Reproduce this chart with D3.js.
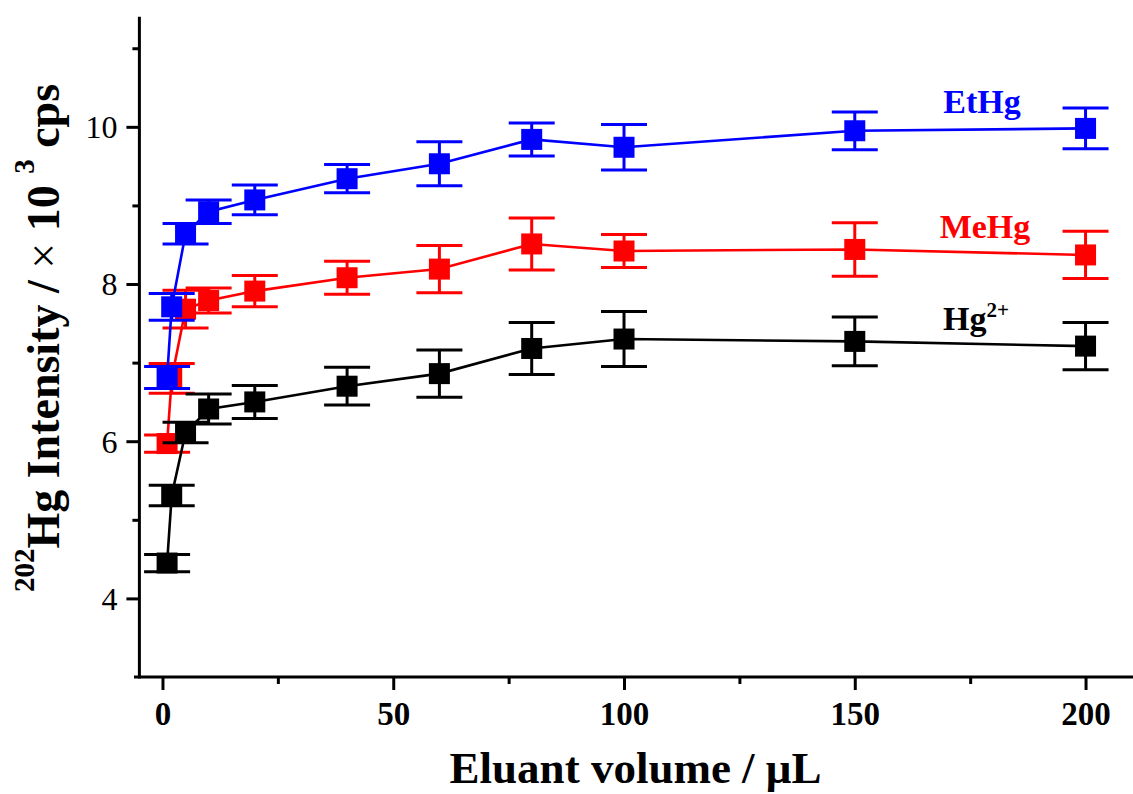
<!DOCTYPE html>
<html>
<head>
<meta charset="utf-8">
<script src="https://cdn.jsdelivr.net/npm/d3@7"></script>
<style>
  html, body { margin: 0; padding: 0; background: #fff; }
  svg { display: block; font-family: "Liberation Serif", "Times New Roman", serif; }
</style>
</head>
<body>
<svg id="chart" width="1133" height="794"></svg>
<script>
// ---- data ----
const xVals = [1, 2, 5, 10, 20, 40, 60, 80, 100, 150, 200];
const hgVals = [4.45, 5.31, 6.11, 6.41, 6.50, 6.70, 6.86, 7.18, 7.30, 7.27, 7.21];
const hgErr  = [0.11, 0.13, 0.13, 0.19, 0.21, 0.24, 0.30, 0.33, 0.35, 0.31, 0.30];
const meVals = [5.97, 6.80, 7.68, 7.79, 7.91, 8.08, 8.19, 8.51, 8.42, 8.44, 8.37];
const meErr  = [0.11, 0.19, 0.24, 0.16, 0.20, 0.21, 0.30, 0.33, 0.21, 0.34, 0.30];
const etVals = [6.81, 7.71, 8.64, 8.92, 9.07, 9.34, 9.53, 9.84, 9.74, 9.95, 9.98];
const etErr  = [0.14, 0.17, 0.13, 0.15, 0.19, 0.18, 0.28, 0.21, 0.29, 0.24, 0.26];
const xMajorTicks = [0, 50, 100, 150, 200];
const xMinorTicks = [25, 75, 125, 175];
const yMajorTicks = [4, 6, 8, 10];
const yMinorTicks = [5, 7, 9, 11];
const seriesNames = ["MeHg", "Hg", "EtHg"];
const seriesColors = ["#ff0000", "#000000", "#0000ff"];

const svg = d3.select("#chart");
const x = d3.scaleLinear().domain([-5, 210]).range([139.4, 1131.7]);
const y = d3.scaleLinear().domain([3, 11.4]).range([677, 16.8]);

// ---- axes ----
const axisW = 3;
const xAxisG = svg.append("g").attr("transform", `translate(0,${y(3)})`)
  .call(d3.axisBottom(x).tickValues(xMajorTicks).tickSize(13).tickFormat(d3.format("d")));
const xMinorG = svg.append("g").attr("transform", `translate(0,${y(3)})`)
  .call(d3.axisBottom(x).tickValues(xMinorTicks).tickSize(7).tickFormat(""));
const yAxisG = svg.append("g").attr("transform", `translate(${x(-5)},0)`)
  .call(d3.axisLeft(y).tickValues(yMajorTicks).tickSize(13).tickFormat(d3.format("d")));
const yMinorG = svg.append("g").attr("transform", `translate(${x(-5)},0)`)
  .call(d3.axisLeft(y).tickValues(yMinorTicks).tickSize(7).tickFormat(""));

[xAxisG, xMinorG, yAxisG, yMinorG].forEach(g => {
  g.select(".domain").remove();
  g.selectAll(".tick line").attr("stroke", "#000").attr("stroke-width", axisW);
});
xAxisG.selectAll(".tick text")
  .attr("y", 48).attr("dy", 0)
  .attr("font-size", 33).attr("font-weight", "bold")
  .attr("font-family", "Liberation Serif, Times New Roman, serif")
  .attr("fill", "#000");
yAxisG.selectAll(".tick text")
  .attr("x", -22).attr("dy", "0.34em")
  .attr("font-size", 32).attr("font-weight", "normal")
  .attr("font-family", "Liberation Serif, Times New Roman, serif")
  .attr("fill", "#000");

// axis lines
svg.append("line").attr("x1", 134).attr("x2", 1133).attr("y1", y(3)).attr("y2", y(3))
  .attr("stroke", "#000").attr("stroke-width", axisW);
svg.append("line").attr("x1", x(-5)).attr("x2", x(-5)).attr("y1", y(11.4)).attr("y2", y(3) + 1.5)
  .attr("stroke", "#000").attr("stroke-width", axisW);

// ---- series ----
const allSeries = [
  { vals: meVals, err: meErr, color: seriesColors[0] },
  { vals: hgVals, err: hgErr, color: seriesColors[1] },
  { vals: etVals, err: etErr, color: seriesColors[2] }
];
const capHalf = 23, sq = 21;
const line = d3.line().x(d => x(d.x)).y(d => y(d.v));

allSeries.forEach(s => {
  const pts = xVals.map((xv, i) => ({ x: xv, v: s.vals[i], e: s.err[i] }));
  const g = svg.append("g");
  g.append("path").datum(pts).attr("d", line)
    .attr("fill", "none").attr("stroke", s.color).attr("stroke-width", 2.6);
  const eb = g.selectAll(".eb").data(pts).enter().append("g");
  eb.append("line").attr("x1", d => x(d.x)).attr("x2", d => x(d.x))
    .attr("y1", d => y(d.v + d.e)).attr("y2", d => y(d.v - d.e))
    .attr("stroke", s.color).attr("stroke-width", 3);
  eb.append("line").attr("x1", d => x(d.x) - capHalf).attr("x2", d => x(d.x) + capHalf)
    .attr("y1", d => y(d.v + d.e)).attr("y2", d => y(d.v + d.e))
    .attr("stroke", s.color).attr("stroke-width", 3);
  eb.append("line").attr("x1", d => x(d.x) - capHalf).attr("x2", d => x(d.x) + capHalf)
    .attr("y1", d => y(d.v - d.e)).attr("y2", d => y(d.v - d.e))
    .attr("stroke", s.color).attr("stroke-width", 3);
  g.selectAll(".sq").data(pts).enter().append("rect")
    .attr("x", d => x(d.x) - sq / 2).attr("y", d => y(d.v) - sq / 2)
    .attr("width", sq).attr("height", sq).attr("fill", s.color);
});

// ---- series labels ----
svg.append("text").attr("x", 982).attr("y", 113).attr("text-anchor", "middle")
  .attr("font-size", 34).attr("font-weight", "bold").attr("fill", seriesColors[2]).text("EtHg");
svg.append("text").attr("x", 985).attr("y", 238).attr("text-anchor", "middle")
  .attr("font-size", 34).attr("font-weight", "bold").attr("fill", seriesColors[0]).text("MeHg");
const hgT = svg.append("text").attr("x", 943).attr("y", 330)
  .attr("font-size", 34).attr("font-weight", "bold").attr("fill", seriesColors[1]);
hgT.append("tspan").text("Hg");
hgT.append("tspan").attr("font-size", 21).attr("dy", -13).text("2+");

// ---- axis titles ----
svg.append("text").attr("x", 635.5).attr("y", 783).attr("text-anchor", "middle")
  .attr("font-size", 45).attr("font-weight", "bold").text("Eluant volume / μL");

const yt = svg.append("text").attr("transform", "translate(59,338) rotate(-90)")
  .attr("text-anchor", "middle").attr("font-size", 46).attr("font-weight", "bold");
yt.append("tspan").attr("font-size", 29).attr("dy", -25).text("202");
yt.append("tspan").attr("dy", 25).text("Hg Intensity / ");
yt.append("tspan").attr("font-weight", "normal").text("× ");
yt.append("tspan").text("10 ");
yt.append("tspan").attr("font-size", 29).attr("dy", -25).text("3");
yt.append("tspan").attr("dy", 25).text(" cps");
</script>
</body>
</html>
